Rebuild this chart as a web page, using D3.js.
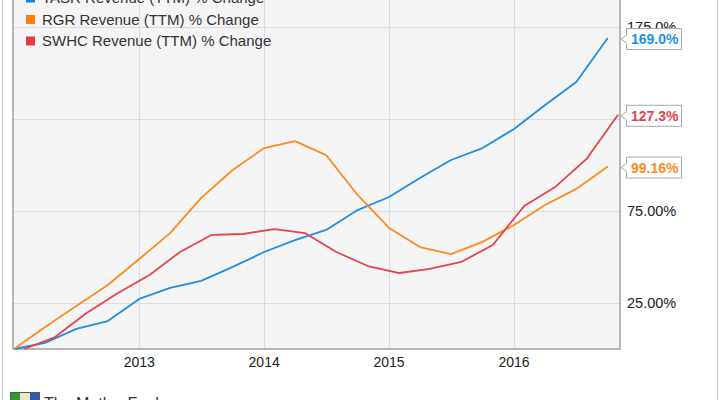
<!DOCTYPE html>
<html>
<head>
<meta charset="utf-8">
<script src="https://cdn.jsdelivr.net/npm/d3@7"></script>
<style>
  body { margin: 0; background: #fff; }
  svg { display: block; font-family: "Liberation Sans", Arial, sans-serif; }
</style>
</head>
<body>
<div id="chart"></div>
<script>
// quarterly dates (TASR and RGR share one set, SWHC reports a month later)
var quarterDates = ["2012-01-01","2012-04-01","2012-07-01","2012-10-01",
    "2013-01-01","2013-04-01","2013-07-01","2013-10-01",
    "2014-01-01","2014-04-01","2014-07-01","2014-10-01",
    "2015-01-01","2015-04-01","2015-07-01","2015-10-01",
    "2016-01-01","2016-04-01","2016-07-01","2016-10-01"];
var swhcDates = ["2012-01-31","2012-04-30","2012-07-31","2012-10-31",
    "2013-01-31","2013-04-30","2013-07-31","2013-10-31",
    "2014-01-31","2014-04-30","2014-07-31","2014-10-31",
    "2015-01-31","2015-04-30","2015-07-31","2015-10-31",
    "2016-01-31","2016-04-30","2016-07-31","2016-10-31"];

var tasrValues = [0, 3.3, 10.9, 15.2, 27.2, 33.2, 37.0, 44.6, 52.7, 59.2,
    64.7, 75.5, 82.6, 92.9, 102.7, 109.2, 119.6, 132.6, 145.1, 169.0];
var rgrValues = [0, 12.0, 23.4, 34.8, 48.9, 63.0, 82.1, 97.3, 109.2, 113.0,
    105.4, 83.7, 65.8, 55.4, 51.6, 58.2, 67.4, 78.3, 87.0, 99.16];
var swhcValues = [0, 6.5, 19.6, 30.4, 40.2, 52.7, 62.0, 62.5, 65.2, 63.0,
    52.7, 45.1, 41.3, 43.5, 47.3, 56.5, 77.7, 88.0, 103.3, 127.3];

var seriesNames = ["TASR Revenue (TTM) % Change", "RGR Revenue (TTM) % Change", "SWHC Revenue (TTM) % Change"];
var endLabels = ["169.0%", "99.16%", "127.3%"];
var yTicks = [25, 75, 125, 175];
var yTickLabels = ["25.00%", "75.00%", "125.0%", "175.0%"];
var xTicks = ["2013-01-01", "2014-01-01", "2015-01-01", "2016-01-01"];

var width = 720
var height = 400

var plot = { left: 13, right: 620, top: -20, bottom: 349 };

var parseDate = d3.timeParse("%Y-%m-%d");

var lineColors = ["#1f8ee6", "#ff8a1c", "#e6434b"];
var legendColors = ["#1683e8", "#ff7f0a", "#e53a3e"];

var svg = d3.select("#chart")
    .append("svg")
    .attr("width", width)
    .attr("height", height);

// scales
var x = d3.scaleTime()
    .domain([parseDate("2012-01-01"), parseDate("2016-01-01")])
    .range([14, 514]);

var y = d3.scaleLinear()
    .domain([0, 175])
    .range([349, 27]);

// outer frame
svg.append("rect")
    .attr("x", 2.5).attr("y", -10)
    .attr("width", 715).attr("height", 420)
    .attr("fill", "#fff")
    .attr("stroke", "#c8c8c8");

// plot background
svg.append("rect")
    .attr("x", plot.left).attr("y", plot.top)
    .attr("width", plot.right - plot.left)
    .attr("height", plot.bottom - plot.top)
    .attr("fill", "#f5f5f5");

// grid
svg.append("g")
    .selectAll("line")
    .data(yTicks)
    .enter()
    .append("line")
    .attr("x1", plot.left).attr("x2", plot.right)
    .attr("y1", d => Math.round(y(d)) + 0.5)
    .attr("y2", d => Math.round(y(d)) + 0.5)
    .attr("stroke", "#dcdcdc");

svg.append("g")
    .selectAll("line")
    .data(xTicks)
    .enter()
    .append("line")
    .attr("x1", d => Math.round(x(parseDate(d))) + 0.5)
    .attr("x2", d => Math.round(x(parseDate(d))) + 0.5)
    .attr("y1", plot.top).attr("y2", plot.bottom)
    .attr("stroke", "#dcdcdc");

// plot border (left, bottom, right)
svg.append("path")
    .attr("d", `M${plot.left},${plot.top} V${plot.bottom} H${plot.right} V${plot.top}`)
    .attr("fill", "none")
    .attr("stroke", "#a0a0a0")
    .attr("stroke-width", 1.5);

// x labels
svg.append("g")
    .selectAll("text")
    .data(xTicks)
    .enter()
    .append("text")
    .attr("x", d => x(parseDate(d)))
    .attr("y", 367)
    .attr("text-anchor", "middle")
    .attr("font-size", "14px")
    .attr("fill", "#222")
    .text(d => d.slice(0, 4));

// y labels
svg.append("g")
    .selectAll("text")
    .data(yTicks)
    .enter()
    .append("text")
    .attr("x", 627)
    .attr("y", d => y(d) + 5)
    .attr("font-size", "14.5px")
    .attr("fill", "#222")
    .text((d, i) => yTickLabels[i]);

// lines
var series = [
    { dates: quarterDates, values: tasrValues },
    { dates: quarterDates, values: rgrValues },
    { dates: swhcDates, values: swhcValues }
];

var line = d3.line()
    .x(d => x(d.date))
    .y(d => y(d.value));

series.forEach(function(s, i) {
    var pts = s.values.map((v, j) => ({ date: parseDate(s.dates[j]), value: v }));
    svg.append("path")
        .datum(pts)
        .attr("d", line)
        .attr("fill", "none")
        .attr("stroke", lineColors[i])
        .attr("stroke-width", 1.8)
        .attr("stroke-linejoin", "round");
});

// legend
var legend = svg.append("g");
seriesNames.forEach(function(name, i) {
    var cy = -2 + i * 21.5;
    legend.append("rect")
        .attr("x", 26).attr("y", cy - 4.5)
        .attr("width", 9).attr("height", 9)
        .attr("fill", legendColors[i]);
    legend.append("text")
        .attr("x", 42).attr("y", cy + 5)
        .attr("font-size", "15px")
        .attr("fill", "#333")
        .text(name);
});

// end value labels
var endValues = [tasrValues[19], rgrValues[19], swhcValues[19]];
endValues.forEach(function(v, i) {
    var cy = y(v) + 1;
    var g = svg.append("g").attr("transform", `translate(621,${cy})`);
    g.append("path")
        .attr("d", "M5.5,-10.5 H60.5 V10.5 H5.5 V4 L0,0 L5.5,-4 Z")
        .attr("fill", "#fff")
        .attr("stroke", "#a8a8a8");
    g.append("text")
        .attr("x", 10).attr("y", 5)
        .attr("font-size", "14px")
        .attr("font-weight", "bold")
        .attr("fill", lineColors[i])
        .text(endLabels[i]);
});

// footer logo (cut off at bottom)
var logo = svg.append("g").attr("transform", "translate(10,392)");
logo.append("rect").attr("width", 30).attr("height", 10).attr("fill", "#555");
logo.append("rect").attr("x", 1).attr("y", 1).attr("width", 9).attr("height", 9).attr("fill", "#2e9a3a");
logo.append("rect").attr("x", 10).attr("y", 1).attr("width", 10).attr("height", 9).attr("fill", "#f0e6d0");
logo.append("rect").attr("x", 20).attr("y", 1).attr("width", 9).attr("height", 9).attr("fill", "#2a5db0");
svg.append("text")
    .attr("x", 44).attr("y", 409)
    .attr("font-size", "16px")
    .attr("fill", "#333")
    .text("The Motley Fool");
</script>
</body>
</html>
